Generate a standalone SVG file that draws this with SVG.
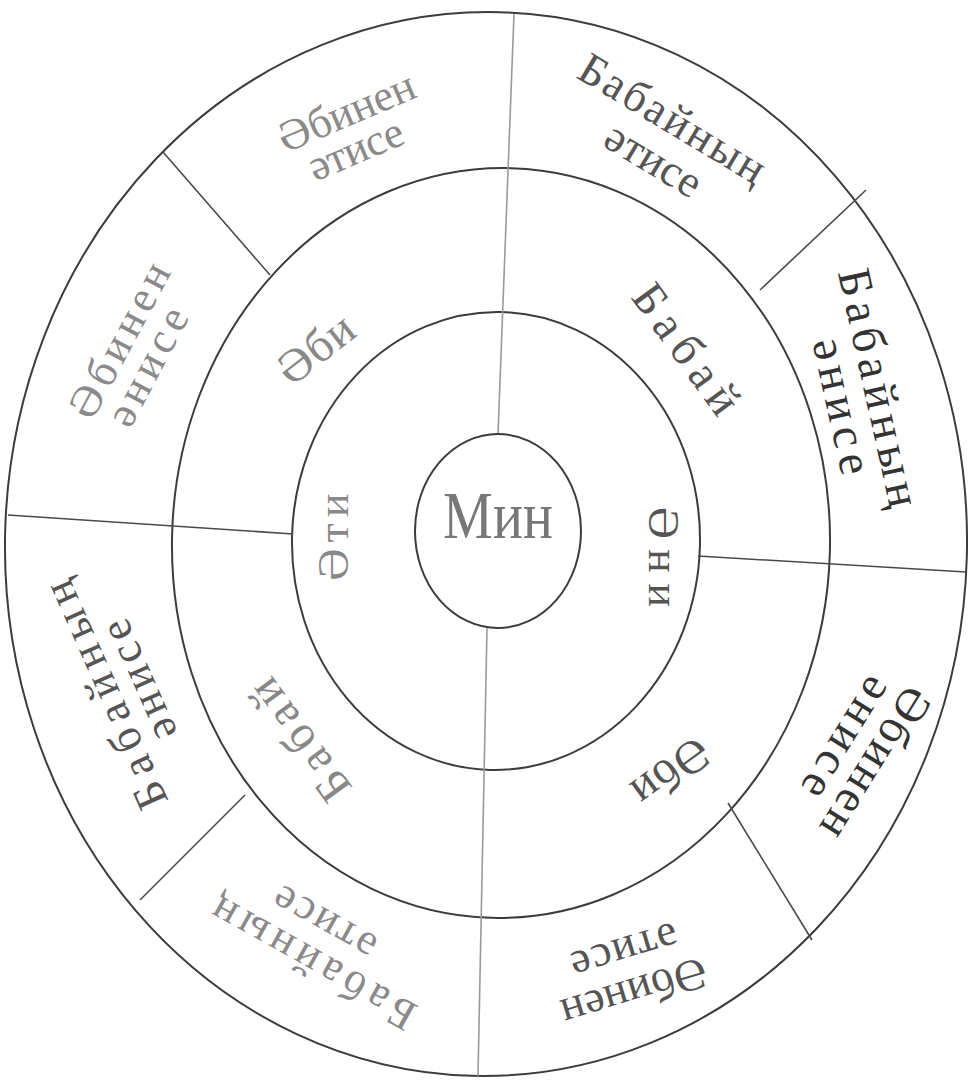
<svg xmlns="http://www.w3.org/2000/svg" width="972" height="1083" viewBox="0 0 972 1083">
<style>
.ring{fill:none;stroke:#3c3c3c;stroke-width:2}
.div{fill:none;stroke:#4a4a4a;stroke-width:1.6}
.lt{stroke:#9a9a9a}
text{font-family:"Liberation Serif","DejaVu Serif","Noto Serif",serif;text-anchor:middle}
.o{font-size:45px;fill:#555}
.od{font-size:47px;fill:#333}
.ol{font-size:44px;fill:#8a8a8a}
.i{font-size:47px;fill:#555}
.il{font-size:47px;fill:#888}
.me{font-size:56px;fill:#777}
</style>
<rect width="972" height="1083" fill="#ffffff"/>
<g id="connectors">
<ellipse class="ring" cx="486" cy="544" rx="481" ry="532" transform="rotate(1.5 486 544)"/>
<ellipse class="ring" cx="501" cy="543" rx="329" ry="375" transform="rotate(1.5 501 543)"/>
<ellipse class="ring" cx="496" cy="541" rx="204" ry="229" transform="rotate(1.5 496 541)"/>
<line class="div lt" x1="514" y1="14" x2="498" y2="434"/>
<line class="div lt" x1="487" y1="628" x2="478" y2="1076"/>
<line class="div" x1="8" y1="515" x2="293" y2="534"/>
<line class="div" x1="698" y1="556" x2="966" y2="572"/>
<line class="div" x1="163" y1="152" x2="270" y2="275"/>
<line class="div" x1="760" y1="290" x2="866" y2="190"/>
<line class="div" x1="140" y1="900" x2="245" y2="795"/>
<line class="div" x1="728" y1="803" x2="812" y2="940"/>
</g>
<g id="min">
<ellipse class="ring" cx="498" cy="531" rx="83" ry="97"/>
<text class="me" transform="translate(498,538) scale(1,1.2)" textLength="110">Мин</text>
</g>
<g id="ati">
<text class="il" style="font-size:44px" transform="translate(348,537) rotate(-90)" textLength="87">Әти</text>
</g>
<g id="ani">
<text class="i" style="font-size:44px" transform="translate(649,557) rotate(90)" textLength="100">Әни</text>
</g>
<g id="abi-top">
<text class="il" transform="translate(325,361) rotate(-38)" textLength="85">Әби</text>
</g>
<g id="babai-top">
<text class="i" transform="translate(674,358) rotate(54)" textLength="150">Бабай</text>
</g>
<g id="babai-bottom">
<text class="il" transform="translate(312,731) rotate(-126)" textLength="140">Бабай</text>
</g>
<g id="abi-bottom">
<text class="i" transform="translate(662,760) rotate(144)" textLength="85">Әби</text>
</g>
<g id="abinen-atise-top" transform="translate(352,125) rotate(-23)">
<text class="ol" textLength="145">Әбинен</text>
<text class="ol" x="-6" y="38" textLength="100">әтисе</text>
</g>
<g id="babainyn-atise-top" transform="translate(665,131) rotate(31)">
<text class="o" textLength="210">Бабайның</text>
<text class="o" x="5" y="45" textLength="105">әтисе</text>
</g>
<g id="babainyn-anise-right" transform="translate(864,391) rotate(77.5)">
<text class="od" textLength="243">Бабайның</text>
<text class="od" x="10" y="40" textLength="138">әнисе</text>
</g>
<g id="abinen-anise-left" transform="translate(132,347) rotate(-62)">
<text class="ol" textLength="170">Әбинен</text>
<text class="ol" x="-10" y="37" textLength="128">әнисе</text>
</g>
<g id="babainyn-anise-left" transform="translate(119,689) rotate(-114)">
<text class="o" textLength="245">Бабайның</text>
<text class="o" x="0" y="36" textLength="128">әнисе</text>
</g>
<g id="babainyn-atise-bottom" transform="translate(320,951) rotate(-150.7)">
<text class="ol" textLength="228">Бабайның</text>
<text class="ol" x="10" y="40" textLength="112">әтисе</text>
</g>
<g id="abinen-atise-bottom" transform="translate(630,979) rotate(163)">
<text class="o" textLength="150">Әбинен</text>
<text class="o" x="-3" y="42" textLength="110">әтисе</text>
</g>
<g id="abinen-anise-right" transform="translate(863,755) rotate(121.7)">
<text class="od" textLength="170">Әбинен</text>
<text class="od" x="-6" y="37" textLength="134">әнисе</text>
</g>
</svg>
